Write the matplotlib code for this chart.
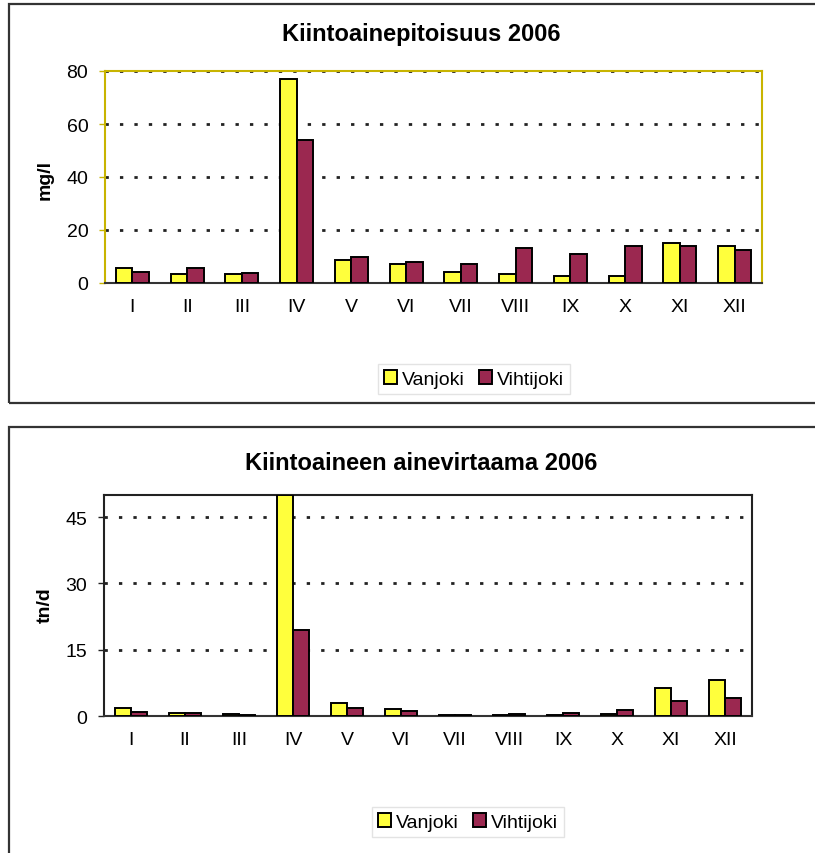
import numpy as np
import matplotlib.pyplot as plt
from matplotlib.patches import Rectangle

plt.rcParams['font.family'] = ['Liberation Sans', 'DejaVu Sans']

months = ["I", "II", "III", "IV", "V", "VI", "VII", "VIII", "IX", "X", "XI", "XII"]

# suspended solids concentration, mg/l
conc_vanjoki = [5.5, 3.3, 3.3, 77, 8.8, 7.3, 4.0, 3.3, 2.5, 2.5, 15.1, 14.1]
conc_vihtijoki = [4.3, 5.8, 3.8, 54, 9.8, 8.1, 7.3, 13.1, 11.1, 14.1, 14.1, 12.3]

# suspended solids load, tn/d
load_vanjoki = [1.7, 0.7, 0.35, 50, 2.9, 1.6, 0.3, 0.2, 0.2, 0.4, 6.4, 8.2]
load_vihtijoki = [0.8, 0.6, 0.3, 19.4, 1.9, 1.2, 0.3, 0.4, 0.6, 1.3, 3.5, 4.0]

yellow = "#ffff3c"
maroon = "#9b2850"

fig = plt.figure(figsize=(8.15, 8.54), dpi=100)
W, H = 815, 854


def fx(px):
    return px / W


def fy(py):
    return 1 - py / H


# outer chart borders
for top, bottom in [(5, 404), (428, 870)]:
    fig.patches.append(Rectangle((fx(9), fy(bottom)), fx(830), fy(top) - fy(bottom),
                                 transform=fig.transFigure, fill=False,
                                 edgecolor="#333333", linewidth=1.6))


def draw_panel(rect, v1, v2, ymax, yticks, frame_color, ylabel, ylabel_y, title, title_y, leg_y, leg_x):
    ax = fig.add_axes(rect)
    x = np.arange(len(months))
    w = 0.30
    b1 = ax.bar(x - w / 2, v1, w, color=yellow, edgecolor="black", linewidth=1.4, label="Vanjoki", zorder=3)
    b2 = ax.bar(x + w / 2, v2, w, color=maroon, edgecolor="black", linewidth=1.4, label="Vihtijoki", zorder=3)
    ax.set_xlim(-0.5, len(months) - 0.5)
    ax.set_ylim(0, ymax)
    ax.set_yticks(yticks)
    ax.set_xticks(x)
    ax.set_xticklabels(months)
    ax.tick_params(axis="x", length=0, pad=11, labelsize=14)
    ax.tick_params(axis="y", length=4, width=1, labelsize=14, pad=8, color=frame_color)
    for yt in yticks[1:]:
        ax.axhline(yt, color="#222222", linewidth=2.0, linestyle=(0, (1.2, 4.0)), zorder=2)
    for side in ("left", "right", "top"):
        ax.spines[side].set_color(frame_color)
        ax.spines[side].set_linewidth(1.5)
    ax.spines["bottom"].set_color("#333333")
    ax.spines["bottom"].set_linewidth(1.5)
    fig.text(fx(45), fy(ylabel_y), ylabel, rotation=90, ha="center", va="center",
             fontsize=14, fontweight="bold")
    fig.text(fx(421), fy(title_y), title, ha="center", va="center", fontsize=17, fontweight="bold")
    leg = fig.legend(handles=[b1, b2], loc="center", bbox_to_anchor=(fx(leg_x), fy(leg_y)),
                     ncol=2, fontsize=14, frameon=True, handlelength=0.7, handleheight=0.7,
                     handletextpad=0.25, columnspacing=0.7, borderpad=0.3, fancybox=False)
    leg.get_frame().set_edgecolor("#dddddd")
    leg.get_frame().set_linewidth(1.0)
    return ax


draw_panel([fx(105), fy(284), fx(762) - fx(105), fy(72) - fy(284)],
           conc_vanjoki, conc_vihtijoki, 80, [0, 20, 40, 60, 80], "#c8b400",
           "mg/l", 180, "Kiintoainepitoisuus 2006", 35, 380, 474)

draw_panel([fx(104), fy(717), fx(752) - fx(104), fy(496) - fy(717)],
           load_vanjoki, load_vihtijoki, 50, [0, 15, 30, 45], "#222222",
           "tn/d", 605, "Kiintoaineen ainevirtaama 2006", 463, 823, 468)

fig.savefig("out.png", dpi=100)
